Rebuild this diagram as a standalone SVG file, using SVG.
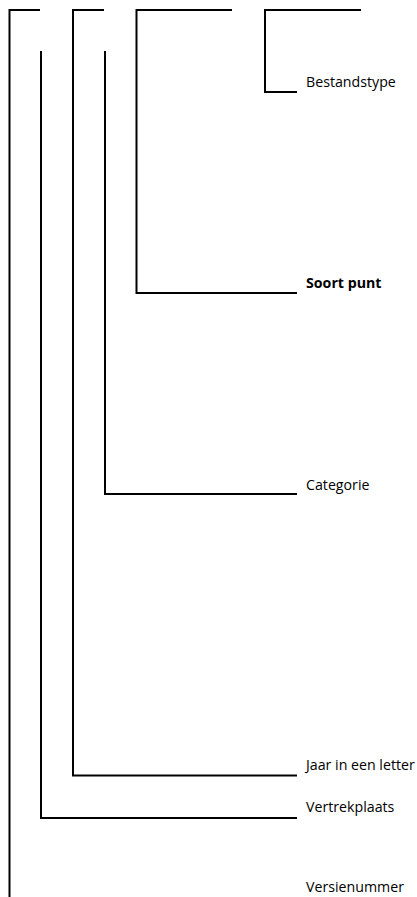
<svg xmlns="http://www.w3.org/2000/svg" width="417" height="897" viewBox="0 0 417 897">
<style>
.lbl{font-family:"Open Sans","Liberation Sans",sans-serif;font-size:14.2px;fill:#000}
.b{font-weight:bold}
.ln{fill:none;stroke:#000;stroke-width:2;stroke-linecap:butt;stroke-linejoin:miter}
</style>
<rect width="417" height="897" fill="#fff"/>
<g id="connectors">
<path class="ln" d="M40 10 H9.5 V897"/>
<path class="ln" d="M41 51 V818 H297"/>
<path class="ln" d="M104 10 H73 V775.5 H297"/>
<path class="ln" d="M105 51 V494 H297"/>
<path class="ln" d="M232 10 H136.5 V293 H297"/>
<path class="ln" d="M361 10 H265 V92 H297"/>
</g>
<g id="bestandstype"><text class="lbl" x="306" y="87">Bestandstype</text></g>
<g id="soort-punt"><text class="lbl b" x="306" y="288">Soort punt</text></g>
<g id="categorie"><text class="lbl" x="306" y="490">Categorie</text></g>
<g id="jaar"><text class="lbl" x="306" y="770">Jaar in een letter</text></g>
<g id="vertrekplaats"><text class="lbl" x="306" y="812">Vertrekplaats</text></g>
<g id="versienummer"><text class="lbl" x="306" y="892">Versienummer</text></g>
</svg>
